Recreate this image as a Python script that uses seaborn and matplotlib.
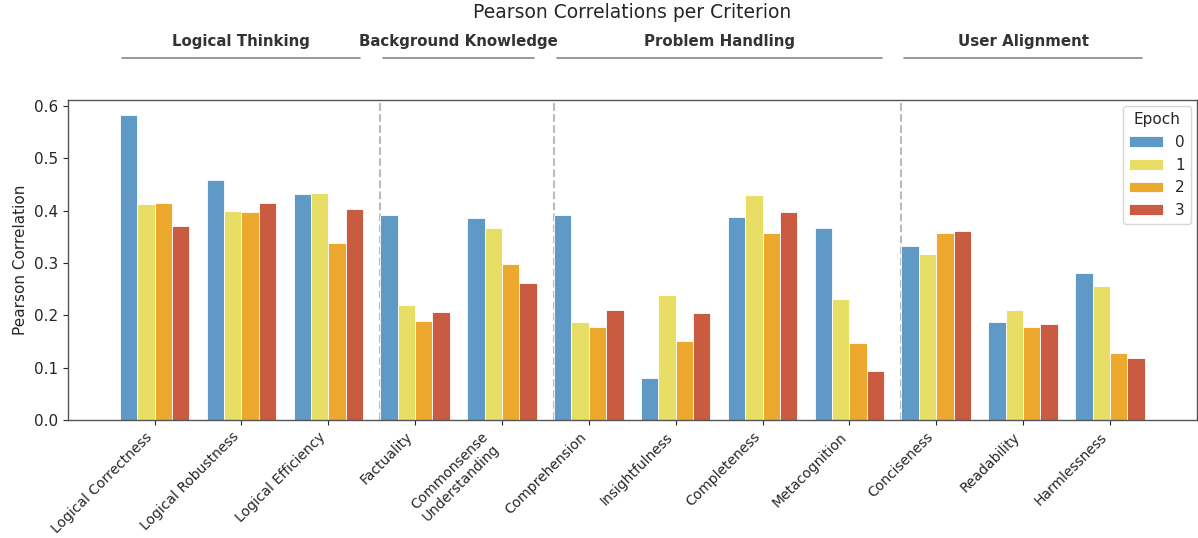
import pandas as pd
import matplotlib
matplotlib.use('Agg')
import matplotlib.pyplot as plt
import seaborn as sns

# Criteria shown on the x axis
criteria = ['Logical Correctness', 'Logical Robustness', 'Logical Efficiency',
            'Factuality', 'Commonsense\nUnderstanding', 'Comprehension',
            'Insightfulness', 'Completeness', 'Metacognition',
            'Conciseness', 'Readability', 'Harmlessness']

# Pearson correlation per epoch
epoch_0 = [0.583, 0.458, 0.432, 0.391, 0.385, 0.391, 0.080, 0.387, 0.366, 0.332, 0.188, 0.280]
epoch_1 = [0.413, 0.400, 0.434, 0.220, 0.366, 0.187, 0.239, 0.430, 0.232, 0.317, 0.211, 0.256]
epoch_2 = [0.415, 0.397, 0.339, 0.190, 0.299, 0.178, 0.151, 0.357, 0.148, 0.357, 0.177, 0.129]
epoch_3 = [0.370, 0.415, 0.403, 0.207, 0.261, 0.211, 0.205, 0.397, 0.093, 0.361, 0.183, 0.119]

epochs = ['0', '1', '2', '3']

# Category groups: (name, first index, last index)
groups = [('Logical Thinking', 0, 2),
          ('Background Knowledge', 3, 4),
          ('Problem Handling', 5, 8),
          ('User Alignment', 9, 11)]

colors = ['#5F99C6', '#E8DE66', '#EDA82E', '#C95B41']

# Long format for seaborn
rows = []
for ep, vals in zip(epochs, [epoch_0, epoch_1, epoch_2, epoch_3]):
    for c, v in zip(criteria, vals):
        rows.append({'Criterion': c, 'Epoch': ep, 'Pearson Correlation': v})
df = pd.DataFrame(rows)

sns.set_style('ticks')
plt.rcParams['font.family'] = ['DejaVu Sans']

fig = plt.figure(figsize=(11.98, 5.38), dpi=100)
ax = fig.add_axes([0.0565, 0.219, 0.9425, 0.595])

sns.barplot(data=df, x='Criterion', y='Pearson Correlation', hue='Epoch',
            palette=colors, saturation=1, width=0.8, ax=ax,
            edgecolor='white', linewidth=0.6)

ax.set_xlim(-1, 12)
ax.set_ylim(0, 0.611)
ax.set_xlabel('')
ax.set_ylabel('Pearson Correlation', fontsize=11)
ax.tick_params(axis='y', labelsize=11)
ax.tick_params(axis='x', labelsize=10)
plt.setp(ax.get_xticklabels(), rotation=45, ha='right')

for s in ax.spines.values():
    s.set_color('#555555')
    s.set_linewidth(1.0)

# Dashed separators between groups
for name, start, end in groups[1:]:
    ax.axvline(start - 0.4, color='#BBBBBB', linestyle='--', linewidth=1.5, zorder=0)

# Group labels and lines above the plot
for name, start, end in groups:
    x0 = start - 0.37
    x1 = end + 0.37
    ax.plot([x0, x1], [1.131, 1.131], color='#888888', linewidth=1.2,
            transform=ax.get_xaxis_transform(), clip_on=False)
    ax.text((x0 + x1) / 2, 1.184, name, transform=ax.get_xaxis_transform(),
            ha='center', va='center', fontsize=10.8, fontweight='bold', color='#333333')

ax.text(0.5, 1.272, 'Pearson Correlations per Criterion', transform=ax.transAxes,
        ha='center', va='center', fontsize=13.5)

ax.legend(title='Epoch', loc='upper right', fontsize=11, title_fontsize=11,
          borderaxespad=0.4, handlelength=2.2)

plt.savefig('out.png', dpi=100)
